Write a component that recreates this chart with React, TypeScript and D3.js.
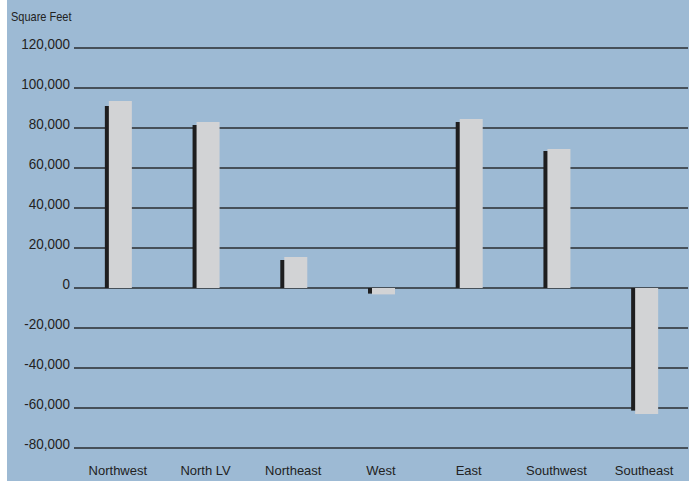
import React from "react";
import * as d3 from "d3";

const categories = ["Northwest", "North LV", "Northeast", "West", "East", "Southwest", "Southeast"];
const frontValues = [93500, 83000, 15500, -3200, 84500, 69500, -63000];
const backValues = [91000, 81500, 14000, -2800, 83000, 68500, -61300];
const tickValues = [120000, 100000, 80000, 60000, 40000, 20000, 0, -20000, -40000, -60000, -80000];
const yTitle = "Square Feet";

const W = 694;
const H = 481;

export default function App() {
  const y = d3.scaleLinear().domain([-80000, 120000]).range([448, 48]);
  const x = d3.scaleBand<string>().domain(categories).range([74, 688]).padding(0);
  const fmt = (v: number) => (v === 0 ? "0" : d3.format(",")(v).replace("\u2212", "-"));
  const font = "'Liberation Sans', Arial, Helvetica, sans-serif";
  const c = (cat: string) => (x(cat) as number) + x.bandwidth() / 2;

  return (
    <svg
      width={W}
      height={H}
      style={{ position: "absolute", left: 0, top: 0 }}
      fontFamily={font}
    >
      <rect x={0} y={0} width={W} height={H} fill="#ffffff" />
      <rect x={7} y={0} width={682} height={H} fill="#9dbad4" />
      <text
        transform="translate(11,21) scale(0.88,1)"
        fontSize={12.5}
        fill="#222"
      >
        {yTitle}
      </text>
      {tickValues.map((t) => (
        <g key={t}>
          <line x1={74} x2={688} y1={y(t)} y2={y(t)} stroke="#2a2c30" strokeWidth={1.6} />
          <text
            transform={`translate(70,${y(t) + 1}) scale(0.9,1)`}
            textAnchor="end"
            fontSize={15}
            fill="#222"
          >
            {fmt(t)}
          </text>
        </g>
      ))}
      {categories.map((cat, i) => {
        const cx = c(cat);
        const bv = backValues[i];
        const fv = frontValues[i];
        return (
          <g key={cat}>
            <rect
              x={cx - 13}
              y={Math.min(y(bv), y(0))}
              width={23}
              height={Math.abs(y(bv) - y(0))}
              fill="#1e1e1f"
            />
            <rect
              x={cx - 9}
              y={Math.min(y(fv), y(0))}
              width={23}
              height={Math.abs(y(fv) - y(0))}
              fill="#d2d3d5"
            />
            <text x={cx} y={475} textAnchor="middle" fontSize={13} fill="#222">
              {cat}
            </text>
          </g>
        );
      })}
    </svg>
  );
}
